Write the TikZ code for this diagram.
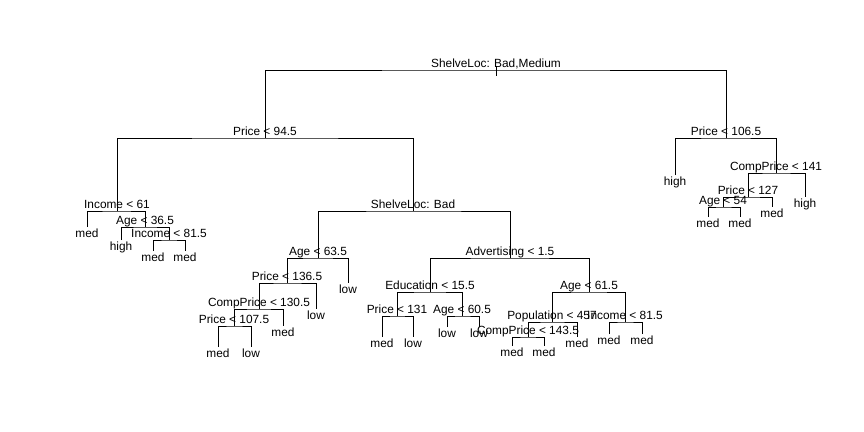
\documentclass[tikz,border=0pt]{standalone}
\usepackage{fontspec}
\setmainfont{Liberation Sans}
\tikzset{every picture/.style={line width=0.75pt}}
\tikzset{
	split label/.style={anchor=base, inner sep=0pt, yshift=2pt, font=\fontsize{8.9}{10}\selectfont},
	leaf label/.style={anchor=base, inner sep=0pt, yshift=-8.2pt, font=\fontsize{8.9}{10}\selectfont},
	branch/.style={draw, color={rgb, 255:red, 0; green, 0; blue, 0 }}}

\begin{document}
\begin{tikzpicture}[x=0.75pt,y=0.75pt,yscale=-1,xscale=1]
\useasboundingbox (0,0) rectangle (864,432);

%Split points
\coordinate (root) at (496,70);
\coordinate (pL) at (265,138);
\coordinate (pR) at (726,138);
\coordinate (inc1) at (117,211);
\coordinate (age1) at (145,227);
\coordinate (inc2) at (169,240);
\coordinate (shelv) at (413,211);
\coordinate (age2) at (318,258);
\coordinate (pr2) at (287,283);
\coordinate (comp1) at (259,309);
\coordinate (pr3) at (234,326);
\coordinate (adv) at (510,258);
\coordinate (edu) at (430,292);
\coordinate (pr4) at (397,316);
\coordinate (age3) at (462,316);
\coordinate (age4) at (589,292);
\coordinate (pop) at (552,322);
\coordinate (comp2) at (528,337);
\coordinate (inc3) at (625,322);
\coordinate (comp3) at (776,173);
\coordinate (pr5) at (748,197);
\coordinate (age5) at (723,207);

%Leaf ends
\coordinate (lf1) at (87,227);
\coordinate (lf2) at (121,240);
\coordinate (lf3) at (153,251);
\coordinate (lf4) at (185,251);
\coordinate (lf5) at (348,283);
\coordinate (lf6) at (316,309);
\coordinate (lf7) at (283,326);
\coordinate (lf8) at (218,347);
\coordinate (lf9) at (251,347);
\coordinate (lf10) at (382,337);
\coordinate (lf11) at (413,337);
\coordinate (lf12) at (447,327);
\coordinate (lf13) at (479,327);
\coordinate (lf14) at (577,337);
\coordinate (lf15) at (512,346);
\coordinate (lf16) at (544,346);
\coordinate (lf17) at (609,334);
\coordinate (lf18) at (642,334);
\coordinate (lf19) at (675,175);
\coordinate (lf20) at (805,197);
\coordinate (lf21) at (772,207);
\coordinate (lf22) at (708,217);
\coordinate (lf23) at (740,217);
\coordinate (rtop) at (496,66);
\coordinate (rbot) at (496,76);

%Straight Lines
\draw [branch] (rtop) -- (rbot) ;
\draw [branch] (pL) |- (root) -| (pR) ;
\draw [branch] (inc1) |- (pL) -| (shelv) ;
\draw [branch] (lf1) |- (inc1) -| (age1) ;
\draw [branch] (lf2) |- (age1) -| (inc2) ;
\draw [branch] (lf3) |- (inc2) -| (lf4) ;
\draw [branch] (age2) |- (shelv) -| (adv) ;
\draw [branch] (pr2) |- (age2) -| (lf5) ;
\draw [branch] (comp1) |- (pr2) -| (lf6) ;
\draw [branch] (pr3) |- (comp1) -| (lf7) ;
\draw [branch] (lf8) |- (pr3) -| (lf9) ;
\draw [branch] (edu) |- (adv) -| (age4) ;
\draw [branch] (pr4) |- (edu) -| (age3) ;
\draw [branch] (lf10) |- (pr4) -| (lf11) ;
\draw [branch] (lf12) |- (age3) -| (lf13) ;
\draw [branch] (pop) |- (age4) -| (inc3) ;
\draw [branch] (comp2) |- (pop) -| (lf14) ;
\draw [branch] (lf15) |- (comp2) -| (lf16) ;
\draw [branch] (lf17) |- (inc3) -| (lf18) ;
\draw [branch] (lf19) |- (pR) -| (comp3) ;
\draw [branch] (pr5) |- (comp3) -| (lf20) ;
\draw [branch] (age5) |- (pr5) -| (lf21) ;
\draw [branch] (lf22) |- (age5) -| (lf23) ;

% Text Node
\node [split label] (t-root) at (root) {ShelveLoc: Bad,Medium};
\node [split label] (t-pL) at (pL) {Price < 94.5};
\node [split label] (t-pR) at (pR) {Price < 106.5};
\node [split label] (t-inc1) at (inc1) {Income < 61};
\node [split label] (t-age1) at (age1) {Age < 36.5};
\node [split label] (t-inc2) at (inc2) {Income < 81.5};
\node [split label] (t-shelv) at (shelv) {ShelveLoc: Bad};
\node [split label] (t-age2) at (age2) {Age < 63.5};
\node [split label] (t-pr2) at (pr2) {Price < 136.5};
\node [split label] (t-comp1) at (comp1) {CompPrice < 130.5};
\node [split label] (t-pr3) at (pr3) {Price < 107.5};
\node [split label] (t-adv) at (adv) {Advertising < 1.5};
\node [split label] (t-edu) at (edu) {Education < 15.5};
\node [split label] (t-pr4) at (pr4) {Price < 131};
\node [split label] (t-age3) at (age3) {Age < 60.5};
\node [split label] (t-age4) at (age4) {Age < 61.5};
\node [split label] (t-pop) at (pop) {Population < 457};
\node [split label] (t-comp2) at (comp2) {CompPrice < 143.5};
\node [split label] (t-inc3) at (inc3) {Income < 81.5};
\node [split label] (t-comp3) at (comp3) {CompPrice < 141};
\node [split label] (t-pr5) at (pr5) {Price < 127};
\node [split label] (t-age5) at (age5) {Age < 54};

% Text Node
\node [leaf label] (t-lf1) at (lf1) {med};
\node [leaf label] (t-lf2) at (lf2) {high};
\node [leaf label] (t-lf3) at (lf3) {med};
\node [leaf label] (t-lf4) at (lf4) {med};
\node [leaf label] (t-lf5) at (lf5) {low};
\node [leaf label] (t-lf6) at (lf6) {low};
\node [leaf label] (t-lf7) at (lf7) {med};
\node [leaf label] (t-lf8) at (lf8) {med};
\node [leaf label] (t-lf9) at (lf9) {low};
\node [leaf label] (t-lf10) at (lf10) {med};
\node [leaf label] (t-lf11) at (lf11) {low};
\node [leaf label] (t-lf12) at (lf12) {low};
\node [leaf label] (t-lf13) at (lf13) {low};
\node [leaf label] (t-lf14) at (lf14) {med};
\node [leaf label] (t-lf15) at (lf15) {med};
\node [leaf label] (t-lf16) at (lf16) {med};
\node [leaf label] (t-lf17) at (lf17) {med};
\node [leaf label] (t-lf18) at (lf18) {med};
\node [leaf label] (t-lf19) at (lf19) {high};
\node [leaf label] (t-lf20) at (lf20) {high};
\node [leaf label] (t-lf21) at (lf21) {med};
\node [leaf label] (t-lf22) at (lf22) {med};
\node [leaf label] (t-lf23) at (lf23) {med};

\end{tikzpicture}
\end{document}
